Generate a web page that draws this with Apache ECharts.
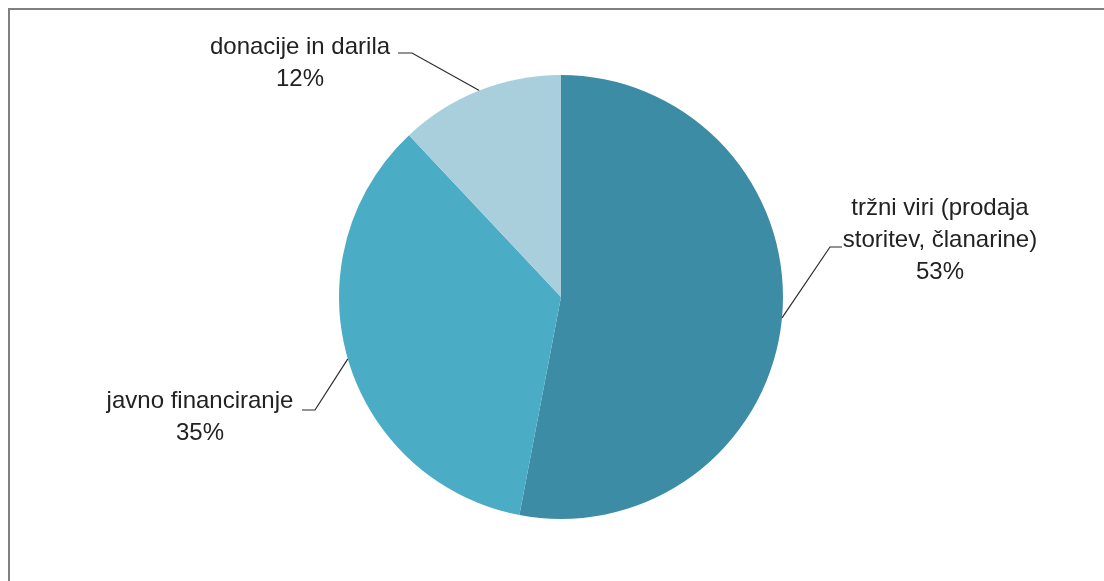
<!DOCTYPE html>
<html>
<head>
<meta charset="utf-8">
<script src="https://cdn.jsdelivr.net/npm/echarts@6/dist/echarts.min.js"></script>
<style>
  html, body { margin: 0; padding: 0; background: #ffffff; overflow: hidden; }
  #frame {
    position: absolute; left: 8px; top: 8px; width: 1200px; height: 700px;
    border: 2px solid #808080; box-sizing: border-box;
  }
  #chart { position: absolute; left: 0; top: 0; width: 1104px; height: 581px; }
</style>
</head>
<body>
<div id="frame"></div>
<div id="chart"></div>
<script>
// Revenue sources (shares in %)
const categories = [
  'tržni viri (prodaja\nstoritev, članarine)',
  'javno financiranje',
  'donacije in darila'
];
const shares = [53, 35, 12];
const colors = ['#3d8ca5', '#4bacc6', '#aacfdc'];

// Where each label block sits (centre) and where its leader line bends
const labelPlacement = [
  { x: 940, y: 240, bend: [830, 247], end: [842, 247] },
  { x: 200, y: 417, bend: [315, 410], end: [302, 410] },
  { x: 300, y: 63,  bend: [412, 53],  end: [398, 53] }
];

const chart = echarts.init(document.getElementById('chart'), null, { renderer: 'canvas' });

const cx = 561, cy = 297, r = 222;

const option = {
  animation: false,
  series: [{
    type: 'pie',
    center: [cx, cy],
    radius: r,
    startAngle: 90,
    clockwise: true,
    avoidLabelOverlap: false,
    silent: true,
    data: categories.map((name, i) => ({
      name: name,
      value: shares[i],
      itemStyle: { color: colors[i] }
    })),
    itemStyle: { borderWidth: 0 },
    emphasis: { disabled: true },
    label: {
      show: true,
      position: 'outside',
      formatter: '{b}\n{d}%',
      fontFamily: 'Liberation Sans, Arial, sans-serif',
      fontSize: 24,
      lineHeight: 32,
      color: '#222222',
      width: 320,
      overflow: 'none',
      align: 'center'
    },
    labelLine: {
      show: true,
      length: 20,
      length2: 20,
      lineStyle: { color: '#2b2b2b', width: 1.2 }
    },
    labelLayout: function (params) {
      const p = labelPlacement[params.dataIndex];
      let anchor;
      if (params.labelLinePoints && params.labelLinePoints[0]) {
        anchor = params.labelLinePoints[0].slice();
      } else {
        let before = 0;
        for (let k = 0; k < params.dataIndex; k++) before += shares[k];
        const total = shares.reduce((a, b) => a + b, 0);
        const mid = (90 - (before + shares[params.dataIndex] / 2) / total * 360) * Math.PI / 180;
        anchor = [cx + r * Math.cos(mid), cy - r * Math.sin(mid)];
      }
      return {
        x: p.x,
        y: p.y,
        align: 'center',
        verticalAlign: 'middle',
        labelLinePoints: [anchor, p.bend, p.end]
      };
    }
  }]
};

chart.setOption(option);
</script>
</body>
</html>
